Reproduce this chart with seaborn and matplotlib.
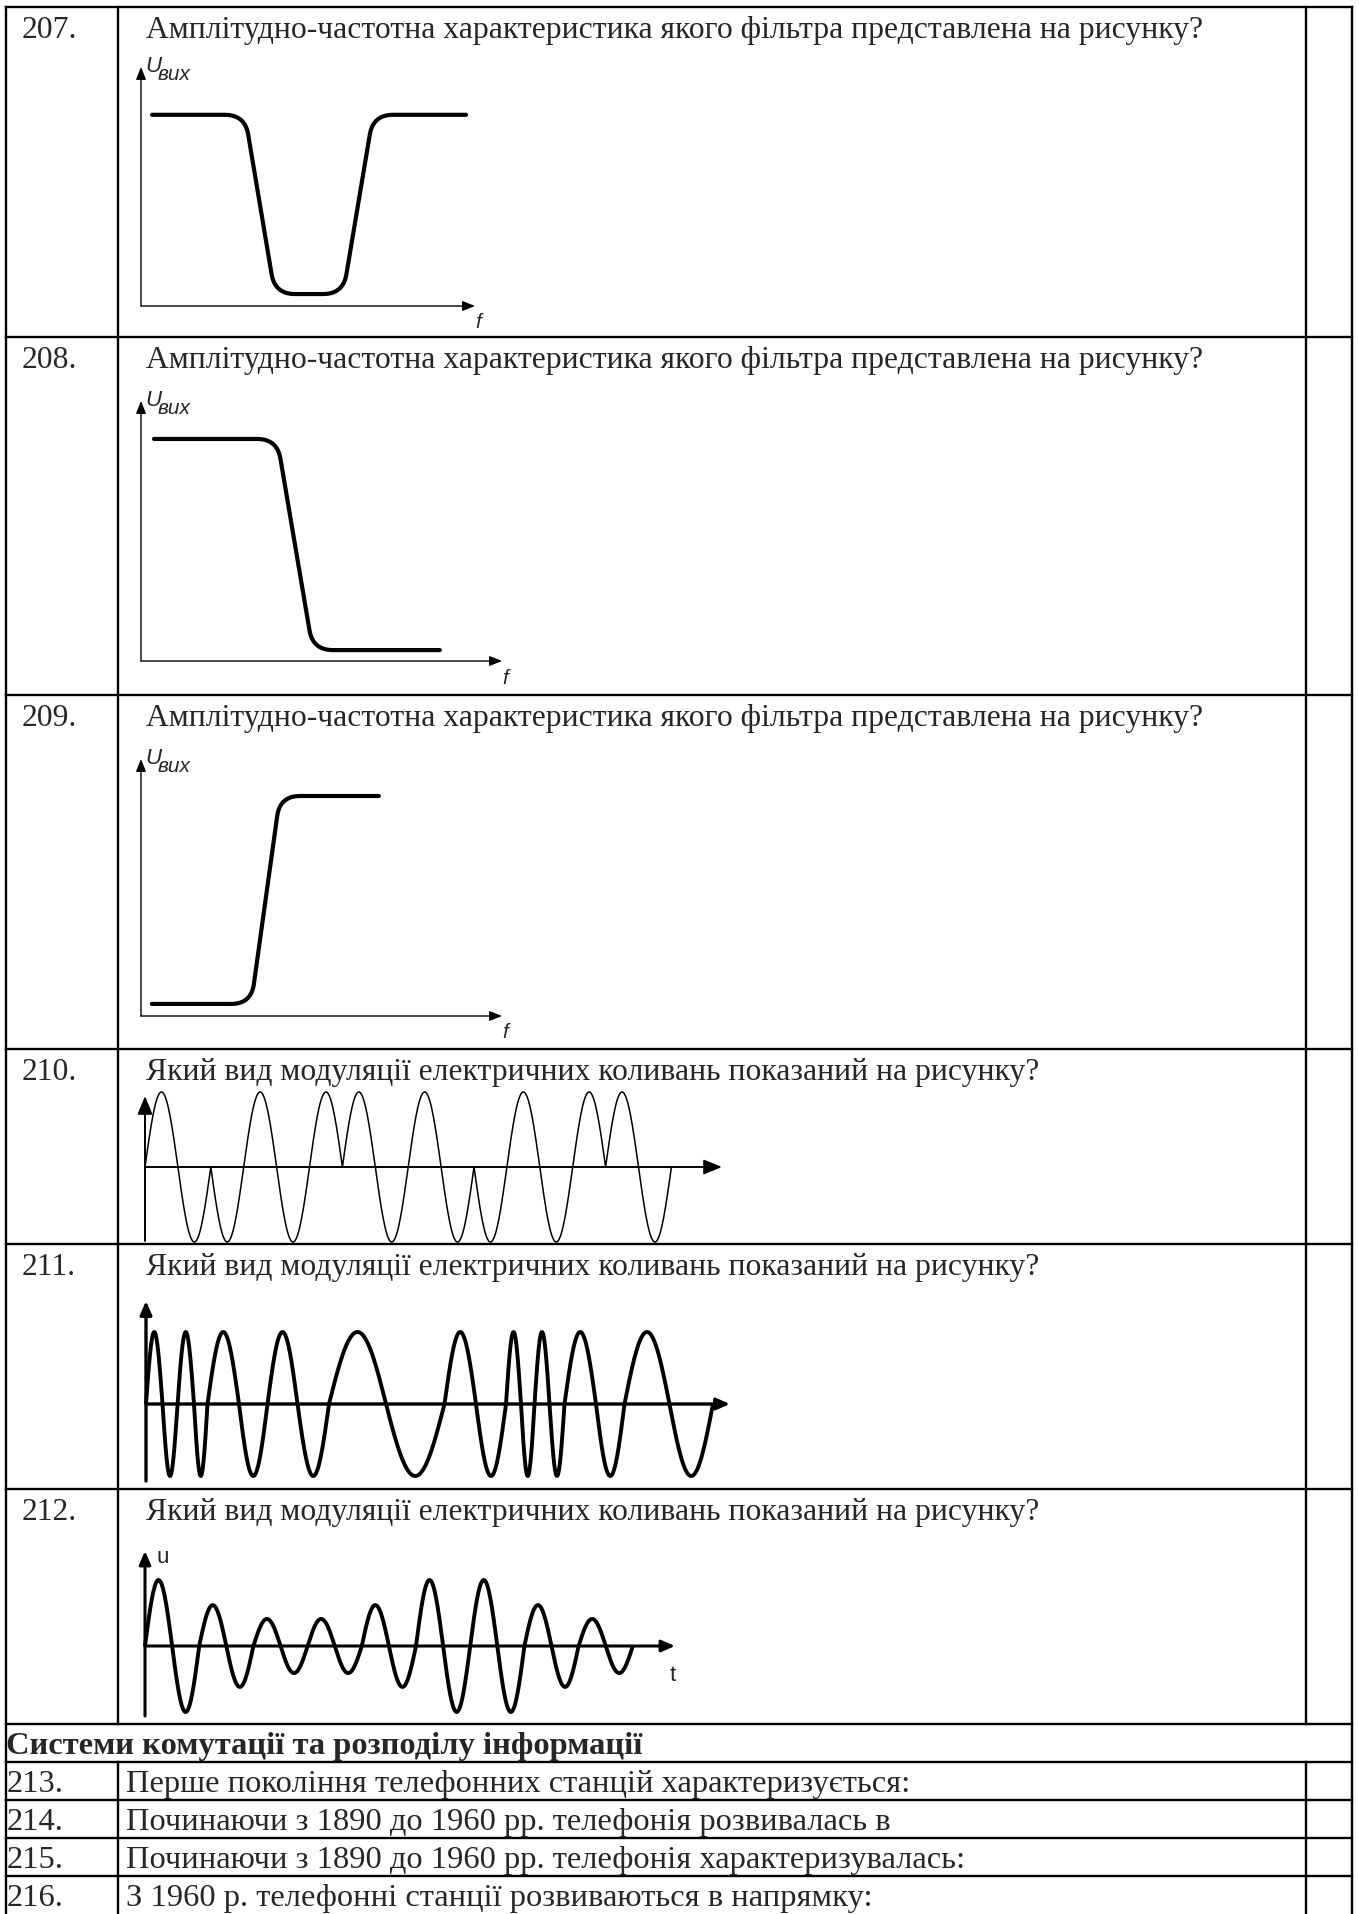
import numpy as np
import pandas as pd
import seaborn as sns
import matplotlib.pyplot as plt

sns.set_theme(style='white')
plt.rcParams['font.family'] = ['Liberation Serif', 'DejaVu Serif']

W, H, DPI = 1359, 1915, 100

# ---- тексти таблиці
numbers = ['207.', '208.', '209.', '210.', '211.', '212.']
questions = ['Амплітудно-частотна характеристика якого фільтра представлена на рисунку?'] * 3 + \
            ['Який вид модуляції електричних коливань показаний на рисунку?'] * 3
section_title = 'Системи комутації та розподілу інформації'
tail_numbers = ['213.', '214.', '215.', '216.']
tail_questions = ['Перше покоління телефонних станцій характеризується:',
                  'Починаючи з 1890 до 1960 рр. телефонія розвивалась в',
                  'Починаючи з 1890 до 1960 рр. телефонія характеризувалась:',
                  'З 1960 р. телефонні станції розвиваються в напрямку:']

# ---- АЧХ фільтрів (частота 0..10, рівень 0..1), кутові точки
notch_f = [0.33, 3.11, 4.01, 6.05, 6.95, 9.73]
notch_u = [0.80, 0.80, 0.05, 0.05, 0.80, 0.80]
lowpass_f = [0.36, 3.77, 4.76, 8.28]
lowpass_u = [0.854, 0.854, 0.042, 0.042]
highpass_f = [0.30, 3.05, 3.85, 6.59]
highpass_u = [0.047, 0.047, 0.856, 0.856]

# ---- модульовані коливання (по півперіодах)
pm_signs = [1, -1, -1, 1, -1, 1, 1, -1, 1, -1, -1, 1, -1, 1, 1, -1]
fm_half = [1.1, 1.0, 1.1, 0.9, 2.1, 1.9, 2.0, 2.1, 3.8, 3.9,
           2.1, 2.0, 1.0, 0.9, 1.0, 1.0, 2.1, 1.9, 3.0, 2.9]
am_amp = [1.0, 1.0, 0.62, 0.62, 0.41, 0.41, 0.41, 0.41, 0.62, 0.62,
          1.0, 1.0, 1.0, 1.0, 0.62, 0.62, 0.41, 0.41]

fig = plt.figure(figsize=(W / DPI, H / DPI), dpi=DPI)
bg = fig.add_axes([0, 0, 1, 1])
bg.set_xlim(0, W)
bg.set_ylim(H, 0)
bg.axis('off')

# сітка таблиці
row_lines = [8, 338, 696, 1050, 1245, 1490, 1725, 1763, 1801, 1839, 1877]
x_left, x_num, x_ans, x_right = 6, 118, 1306, 1352
tkw = dict(color='black', lw=1.7, solid_capstyle='projecting')
for y in row_lines:
    bg.plot([x_left, x_right], [y, y], **tkw)
for x in (x_left, x_right):
    bg.plot([x, x], [row_lines[0], H], **tkw)
for x in (x_num, x_ans):
    bg.plot([x, x], [row_lines[0], row_lines[6]], **tkw)
    bg.plot([x, x], [row_lines[7], H], **tkw)

fs, fs_tail = 22.8, 23.4
for i, (n, q) in enumerate(zip(numbers, questions)):
    top = row_lines[i]
    bg.text(22, top + 30, n, fontsize=fs, va='baseline')
    bg.text(146, top + 30, q, fontsize=fs, va='baseline')
bg.text(6, row_lines[6] + 29, section_title, fontsize=fs_tail, fontweight='bold', va='baseline')
for j, (n, q) in enumerate(zip(tail_numbers, tail_questions)):
    top = row_lines[7 + j]
    bg.text(7, top + 29, n, fontsize=fs_tail, va='baseline')
    bg.text(126, top + 29, q, fontsize=fs_tail, va='baseline')


def panel(left, right, top, bottom):
    ax = fig.add_axes([left / W, 1 - bottom / H, (right - left) / W, (bottom - top) / H])
    ax.axis('off')
    return ax


def arrows(ax, lw, hl, hw, y0=0.0, ybottom=0.0):
    style = f'-|>,head_length={hl},head_width={hw}'
    ap = dict(arrowstyle=style, color='black', lw=lw, shrinkA=0, shrinkB=0, mutation_scale=10)
    ax.annotate('', xy=(1, y0), xytext=(0, y0), xycoords=('axes fraction', 'data'), arrowprops=ap)
    ax.annotate('', xy=(0, 1), xytext=(0, ybottom), xycoords='axes fraction', arrowprops=ap)


def rounded(xs, ys, r, sx, sy, n=14):
    pts = np.column_stack([np.asarray(xs) * sx, np.asarray(ys) * sy])
    out = [pts[0]]
    t = np.linspace(0, 1, n)[:, None]
    for i in range(1, len(pts) - 1):
        p0, p1, p2 = pts[i - 1], pts[i], pts[i + 1]
        d0 = (p0 - p1) / np.linalg.norm(p0 - p1)
        d2 = (p2 - p1) / np.linalg.norm(p2 - p1)
        a, b = p1 + d0 * r, p1 + d2 * r
        out.extend((1 - t) ** 2 * a + 2 * (1 - t) * t * p1 + t ** 2 * b)
    out.append(pts[-1])
    out = np.array(out)
    return out[:, 0] / sx, out[:, 1] / sy


def draw_line(ax, x, y, lw, cap='round'):
    sns.lineplot(x=x, y=y, sort=False, estimator=None, color='black', linewidth=lw, ax=ax)
    for ln in ax.lines:
        ln.set_clip_on(False)
        ln.set_solid_capstyle(cap)


sans = ['Liberation Sans', 'DejaVu Sans']


def filter_panel(box, fx, fu):
    left, right, top, bottom = box
    ax = panel(*box)
    ax.set_xlim(0, 10)
    ax.set_ylim(0, 1)
    sx, sy = (right - left) / 10, (bottom - top)
    x, y = rounded(fx, fu, 20, sx, sy)
    draw_line(ax, x, y, 3.0)
    arrows(ax, 1.0, 0.75, 0.3)
    ax.annotate('U', xy=(0, 1), xycoords='axes fraction', xytext=(4, 1), textcoords='offset pixels',
                ha='left', va='center', fontsize=16, style='italic', family=sans)
    ax.annotate('вих', xy=(0, 1), xycoords='axes fraction', xytext=(17, -7), textcoords='offset pixels',
                ha='left', va='center', fontsize=15, style='italic', family=sans)
    ax.annotate('f', xy=(1, 0), xycoords='axes fraction', xytext=(3, -16), textcoords='offset pixels',
                ha='center', va='center', fontsize=15, style='italic', family=sans)


filter_panel((141, 475, 68, 307), notch_f, notch_u)
filter_panel((141, 502, 402, 662), lowpass_f, lowpass_u)
filter_panel((141, 502, 760, 1017), highpass_f, highpass_u)


def wave(widths, amps, n=60):
    xs, ys = [], []
    s = 0.0
    for w, a in zip(widths, amps):
        t = np.linspace(0, 1, n)
        xs.append(s + w * t)
        ys.append(a * np.sin(np.pi * t))
        s += w
    return pd.DataFrame({'t': np.concatenate(xs), 'u': np.concatenate(ys)})


# 210 - фазова модуляція
ax = panel(145, 722, 1097, 1242)
ax.set_xlim(0, (722 - 145) / 32.9)
ax.set_ylim(-74 / 75, 71 / 75)
df = wave([1.0] * len(pm_signs), pm_signs)
draw_line(ax, df['t'], df['u'], 1.1, cap='butt')
arrows(ax, 1.4, 1.1, 0.45)

# 211 - частотна модуляція
ax = panel(146, 730, 1302, 1482)
ax.set_xlim(0, (730 - 146) / 15)
ax.set_ylim(-77 / 72, 103 / 72)
signs = [1 if i % 2 == 0 else -1 for i in range(len(fm_half))]
df = wave(fm_half, signs)
draw_line(ax, df['t'], df['u'], 2.8, cap='butt')
arrows(ax, 2.4, 0.8, 0.35)

# 212 - амплітудна модуляція
ax = panel(145, 675, 1552, 1717)
ax.set_xlim(0, (675 - 145) / 27.1)
ax.set_ylim(-70 / 66, 95 / 66)
signs = [a if i % 2 == 0 else -a for i, a in enumerate(am_amp)]
df = wave([1.0] * len(am_amp), signs)
draw_line(ax, df['t'], df['u'], 2.8, cap='butt')
arrows(ax, 2.2, 0.8, 0.35)
ax.annotate('u', xy=(0, 1), xycoords='axes fraction', xytext=(12, -6), textcoords='offset pixels',
            ha='left', va='center', fontsize=16, family=sans)
ax.annotate('t', xy=(1, 70 / 165), xycoords='axes fraction', xytext=(-2, -29), textcoords='offset pixels',
            ha='center', va='center', fontsize=16, family=sans)

fig.savefig('out.png', dpi=DPI)
